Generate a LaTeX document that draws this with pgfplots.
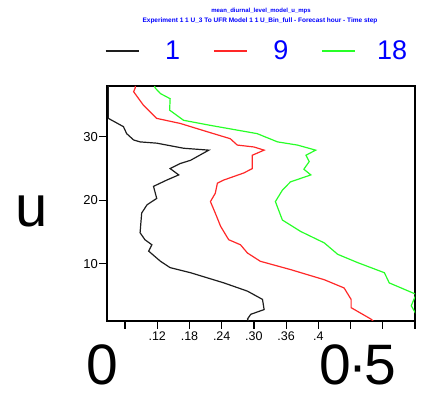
\documentclass[border=0pt]{standalone}
\usepackage{fontspec}
\setmainfont{Liberation Sans}
\usepackage{pgfplots}
\pgfplotsset{compat=1.18}
\definecolor{lred}{RGB}{255,40,40}
\definecolor{lgreen}{RGB}{40,255,40}
\definecolor{lblack}{RGB}{30,30,30}
\begin{document}
\begin{tikzpicture}
\path (0,0) rectangle (423pt,393pt);
\begin{axis}[
  at={(107pt,72pt)}, anchor=south west,
  scale only axis, width=308pt, height=235pt,
  xmin=0.0264, xmax=0.6, ymin=1, ymax=38,
  clip=true,
  xtick={0.06,0.12,0.18,0.24,0.30,0.36,0.42,0.48,0.54,0.60},
  xticklabels={,.12,.18,.24,.30,.36,.4,,,},
  ytick={10,20,30},
  tick pos=left, tick align=outside,
  major tick length=8pt,
  every tick/.style={black, line width=1.2pt},
  axis line style={line width=1.6pt},
  /pgf/number format/assume math mode=true,
  xticklabel style={font=\fontsize{12.5}{12.5}\selectfont, inner sep=0.5pt, yshift=-2pt},
  yticklabel style={font=\fontsize{13}{13}\selectfont, inner sep=1pt},
  legend columns=3,
  legend image code/.code={\draw[#1] (0pt,0pt) -- (33pt,0pt);},
  legend style={draw=none, fill=none, inner sep=0pt, outer sep=0pt,
    at={(-0.0065,1.149)}, anchor=west,
    font=\fontsize{27}{27}\selectfont, text=blue,
    nodes={text width=24pt, align=center, inner sep=0pt},
    /tikz/every odd column/.append style={column sep=21.5pt},
    /tikz/every even column/.append style={column sep=28.5pt}},
]
\addplot[lblack, line width=1.2pt] coordinates {
(0.029,38.0) (0.029,32.9) (0.057,31.6) (0.063,30.5) (0.076,29.5) (0.088,29.2)
(0.119,29.0) (0.169,28.2) (0.216,27.9) (0.182,26.3) (0.163,25.8) (0.144,25.0)
(0.160,24.0) (0.138,23.2) (0.113,22.2) (0.119,20.3) (0.101,19.3) (0.091,18.0)
(0.088,14.9) (0.097,13.8) (0.110,13.0) (0.104,12.0) (0.126,10.4) (0.144,9.4)
(0.182,8.6) (0.244,7.0) (0.288,5.7) (0.316,4.4) (0.319,2.8) (0.294,2.05) (0.288,1.3) (0.290,1.0)
};
\addlegendentry{1}
\addplot[lred, line width=1.2pt] coordinates {
(0.079,38.0) (0.079,37.7) (0.076,37.1) (0.094,35.0) (0.119,32.9) (0.163,32.1) (0.213,30.8)
(0.256,29.7) (0.269,28.7) (0.300,28.4) (0.319,27.9) (0.297,27.1) (0.297,25.0)
(0.281,24.3) (0.244,23.2) (0.232,22.7) (0.228,21.1) (0.219,19.8) (0.228,18.0)
(0.238,15.9) (0.253,13.8) (0.275,13.0) (0.288,11.7) (0.312,10.4) (0.368,9.1)
(0.431,7.5) (0.468,6.2) (0.481,4.4) (0.481,3.1) (0.518,1.3) (0.522,1.0)
};
\addlegendentry{9}
\addplot[lgreen, line width=1.2pt] coordinates {
(0.115,38.0) (0.116,37.7) (0.126,36.8) (0.144,36.0) (0.143,34.2) (0.169,32.6) (0.219,31.8)
(0.306,30.5) (0.344,29.2) (0.381,28.7) (0.415,27.9) (0.397,27.1) (0.403,26.1)
(0.393,24.9) (0.406,24.0) (0.368,22.9) (0.353,21.6) (0.340,19.8) (0.353,16.9)
(0.387,15.1) (0.431,13.3) (0.456,11.5) (0.493,10.2) (0.543,8.6) (0.552,7.0)
(0.602,5.2) (0.593,3.4) (0.602,2.1)
};
\addlegendentry{18}
\end{axis}
% title
\node[anchor=base, text=blue, font=\fontsize{6}{6}\selectfont\bfseries] at (261pt,380pt) {mean\_diurnal\_level\_model\_u\_mps};
\node[anchor=base, text=blue, font=\fontsize{6.5}{6.5}\selectfont\bfseries] at (260pt,370pt) {Experiment 1 1 U\_3 To UFR Model 1 1 U\_Bin\_full - Forecast hour - Time step};
% overlaid labels
\node[anchor=base, inner sep=0pt, font=\fontsize{57}{57}\selectfont] at (102pt,8pt) {0};
\node[anchor=base, inner sep=0pt, font=\fontsize{57}{57}\selectfont] at (358pt,8pt) {0\kern-3pt·\kern-3pt5};
\node[anchor=base, inner sep=0pt, font=\fontsize{58}{58}\selectfont] at (31.5pt,166pt) {u};
\pgfresetboundingbox
\useasboundingbox (0,0) rectangle (423pt,393pt);
\end{tikzpicture}
\end{document}
